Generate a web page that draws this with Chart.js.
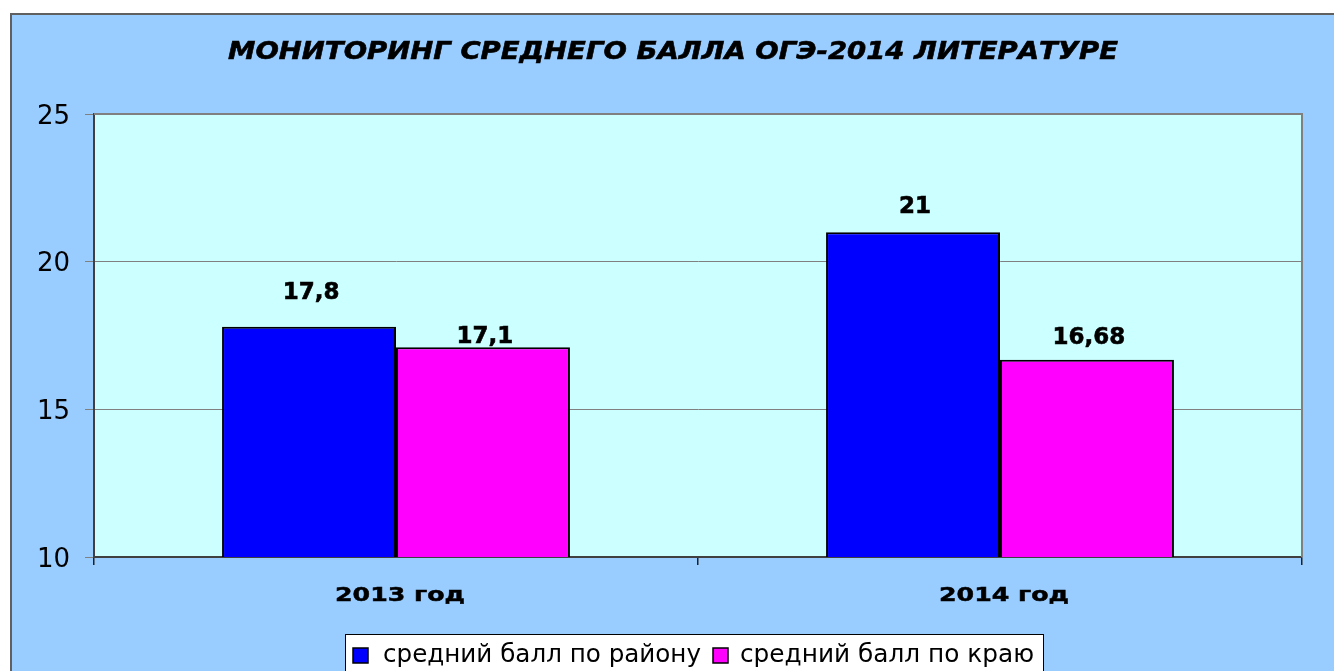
<!DOCTYPE html>
<html>
<head>
<meta charset="utf-8">
<script src="https://cdn.jsdelivr.net/npm/chart.js@4.4.1/dist/chart.umd.min.js"></script>
<style>
html,body{margin:0;padding:0;background:#fff;}
#wrap{width:1334px;height:671px;position:relative;}
</style>
</head>
<body>
<div id="wrap"><canvas id="c" width="1334" height="671"></canvas></div>
<script>
const chartTitle = 'МОНИТОРИНГ СРЕДНЕГО БАЛЛА ОГЭ-2014 ЛИТЕРАТУРЕ';
const categories = ['2013 год', '2014 год'];
const seriesNames = ['средний балл по району', 'средний балл по краю'];
const districtValues = [17.8, 21];
const regionValues = [17.1, 16.68];
const yTicks = [10, 15, 20, 25];

const seriesColors = ['#0000FF', '#FF00FF'];
const labelLift = [[34, 25], [10, 22]];

function fmt(v){ return String(v).replace('.', ','); }

function drawStretched(ctx, text, cx, cy, targetW, font, stroke){
  ctx.save();
  ctx.font = font;
  const w = ctx.measureText(text).width;
  const s = targetW / w;
  ctx.translate(cx, cy);
  ctx.scale(s, 1);
  ctx.textAlign = 'center';
  ctx.textBaseline = 'middle';
  ctx.fillStyle = '#000';
  ctx.fillText(text, 0, 0);
  if (stroke) {
    ctx.strokeStyle = '#000';
    ctx.lineWidth = stroke;
    ctx.strokeText(text, 0, 0);
  }
  ctx.restore();
}

const decor = {
  id: 'decor',
  beforeDraw(chart){
    const ctx = chart.ctx, a = chart.chartArea;
    ctx.save();
    ctx.fillStyle = '#fff';
    ctx.fillRect(0, 0, chart.width, chart.height);
    ctx.fillStyle = '#99CCFF';
    ctx.fillRect(10, 13, chart.width - 10, chart.height - 13);
    ctx.strokeStyle = '#606060';
    ctx.lineWidth = 2;
    ctx.beginPath();
    ctx.moveTo(11, chart.height + 2);
    ctx.lineTo(11, 14);
    ctx.lineTo(chart.width + 2, 14);
    ctx.stroke();
    ctx.fillStyle = '#CCFFFF';
    ctx.fillRect(a.left, a.top, a.right - a.left, a.bottom - a.top);
    ctx.restore();
  },
  beforeDatasetsDraw(chart){
    const ctx = chart.ctx, a = chart.chartArea;
    ctx.save();
    ctx.strokeStyle = '#808080';
    ctx.lineWidth = 2;
    ctx.beginPath();
    ctx.moveTo(a.left, a.top);
    ctx.lineTo(a.right, a.top);
    ctx.lineTo(a.right, a.bottom);
    ctx.stroke();
    ctx.restore();
  },
  afterDraw(chart){
    const ctx = chart.ctx;
    drawStretched(ctx, chartTitle, 673, 52, 890, 'italic bold 25px "DejaVu Sans"', 0.6);
    const xs = chart.scales.x;
    categories.forEach((c, i) => {
      drawStretched(ctx, c, xs.getPixelForValue(i) + 4, 596, 130, 'bold 20px "DejaVu Sans"', 0.5);
    });
    chart.data.datasets.forEach((ds, di) => {
      const meta = chart.getDatasetMeta(di);
      meta.data.forEach((bar, i) => {
        ctx.save();
        ctx.font = 'bold 23px "DejaVu Sans"';
        ctx.fillStyle = '#000';
        ctx.textAlign = 'center';
        ctx.textBaseline = 'middle';
        ctx.fillText(fmt(ds.data[i]), bar.x + 2, bar.y - labelLift[di][i]);
        ctx.strokeStyle = '#000';
        ctx.lineWidth = 0.6;
        ctx.strokeText(fmt(ds.data[i]), bar.x + 2, bar.y - labelLift[di][i]);
        ctx.restore();
      });
    });
    ctx.save();
    ctx.fillStyle = '#fff';
    ctx.fillRect(345, 634, 698, 50);
    ctx.strokeStyle = '#000';
    ctx.lineWidth = 1;
    ctx.strokeRect(345.5, 634.5, 698, 50);
    const items = [
      {box: 353, tx: 383, tw: 318},
      {box: 713, tx: 740, tw: 294}
    ];
    items.forEach((it, i) => {
      ctx.fillStyle = seriesColors[i];
      ctx.fillRect(it.box, 648, 15, 15);
      ctx.strokeStyle = '#000';
      ctx.lineWidth = 1.5;
      ctx.strokeRect(it.box, 648, 15, 15);
      drawStretched(ctx, seriesNames[i], it.tx + it.tw / 2, 656, it.tw, '24px "DejaVu Sans"');
    });
    ctx.restore();
  }
};

new Chart(document.getElementById('c'), {
  type: 'bar',
  data: {
    labels: categories,
    datasets: [
      { label: seriesNames[0], data: districtValues, backgroundColor: seriesColors[0], borderColor: '#000', borderWidth: 2, borderSkipped: false },
      { label: seriesNames[1], data: regionValues, backgroundColor: seriesColors[1], borderColor: '#000', borderWidth: 2, borderSkipped: false }
    ]
  },
  options: {
    responsive: false,
    animation: false,
    devicePixelRatio: 1,
    categoryPercentage: 0.576,
    barPercentage: 1.0,
    layout: { padding: { left: 10, top: 114, right: 32, bottom: 54 } },
    plugins: {
      legend: { display: false },
      title: { display: false },
      tooltip: { enabled: false }
    },
    scales: {
      x: {
        offset: true,
        grid: { display: true, offset: true, drawOnChartArea: false, drawTicks: true, tickLength: 8, color: '#202020', lineWidth: 1.5 },
        border: { display: true, color: '#404040', width: 2 },
        ticks: { display: false },
        afterFit(s){ s.height = 60; }
      },
      y: {
        min: 10, max: 25,
        afterBuildTicks(s){ s.ticks = yTicks.map(v => ({ value: v })); },
        grid: { color: '#808080', lineWidth: 1, tickLength: 9, drawTicks: true },
        border: { display: true, color: '#404040', width: 2 },
        ticks: { font: { family: 'DejaVu Sans', size: 26 }, color: '#000', padding: 15, labelOffset: 3 },
        afterFit(s){ s.width = 84; }
      }
    }
  },
  plugins: [decor]
});
</script>
</body>
</html>
